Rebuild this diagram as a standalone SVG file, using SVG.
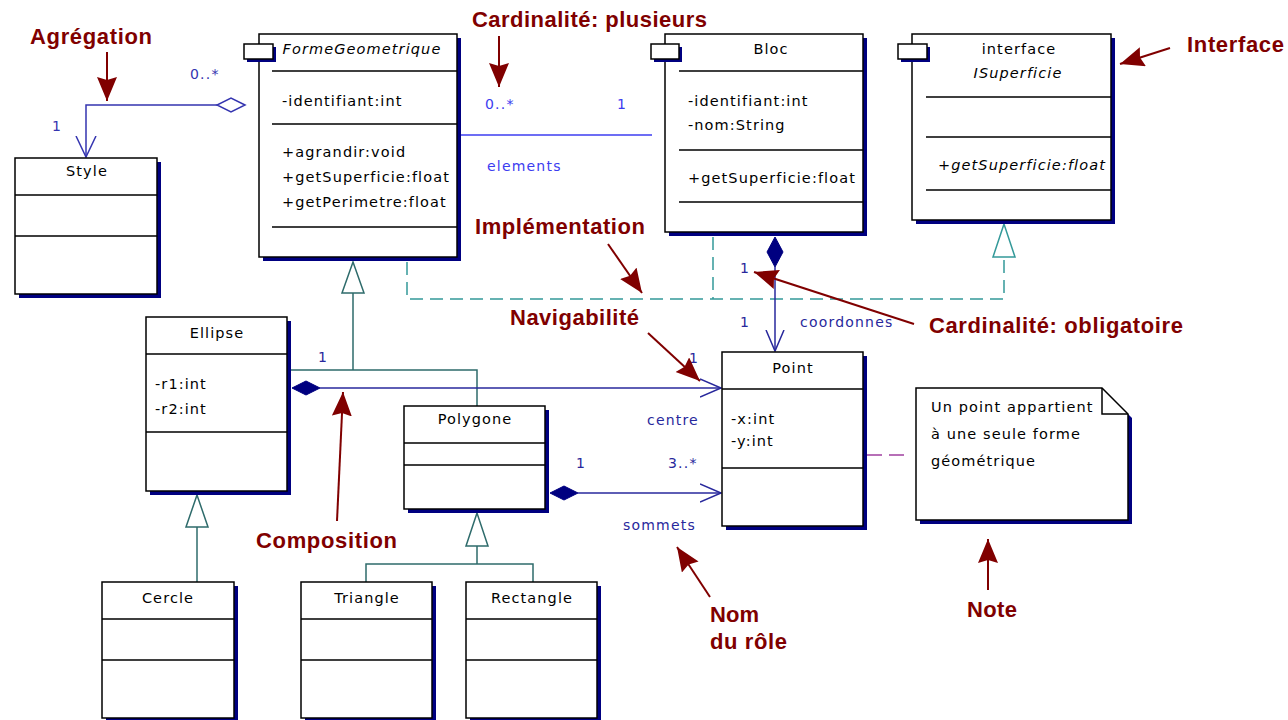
<svg xmlns="http://www.w3.org/2000/svg" width="1288" height="720" viewBox="0 0 1288 720">
  <style>
    .box{fill:#fff;stroke:#000;stroke-width:1.5}
    .shadow{fill:#000080}
    .div{stroke:#000;stroke-width:1.5}
    .t{font-family:"DejaVu Sans",Verdana,sans-serif;font-size:14.5px;letter-spacing:1.1px;fill:#000}
    .mid{text-anchor:middle}
    .it{font-style:italic}
    .ann{font-family:"Liberation Sans",Arial,sans-serif;font-weight:bold;font-size:22px;fill:#800000}
    .lbl{font-family:"DejaVu Sans",Verdana,sans-serif;font-size:14px;letter-spacing:1.2px;fill:#28289c}
    .lbl.bright{fill:#3c3cf0}
    .lbl.agg{fill:#3535b0}
    .gen{stroke:#2e6b6b;stroke-width:1.5;fill:none}
    .genhead{stroke:#2e6b6b;stroke-width:1.5;fill:#fff}
    .real{stroke:#339999;stroke-width:1.5;fill:none;stroke-dasharray:13 7}
    .realhead{stroke:#339999;stroke-width:1.5;fill:#fff}
    .assoc{stroke:#28289c;stroke-width:1.5;fill:none}
    .comp{fill:#000080;stroke:#000080;stroke-width:1}
    .redarrow{stroke:#800000;stroke-width:2;fill:none}
    .notelink{stroke:#a040a0;stroke-width:1.5;fill:none;stroke-dasharray:15 7}
  </style>
  <defs>
    <marker id="redhead" markerUnits="userSpaceOnUse" markerWidth="26" markerHeight="22" refX="24" refY="10" orient="auto">
      <path d="M0,0 L24,10 L0,20 L3,10 Z" fill="#800000"/>
    </marker>
    <marker id="openv" markerUnits="userSpaceOnUse" markerWidth="24" markerHeight="22" refX="21" refY="10" orient="auto">
      <path d="M0,1 L21,10 L0,19" fill="none" stroke="#28289c" stroke-width="1.5"/>
    </marker>
    <marker id="openv-agg" markerUnits="userSpaceOnUse" markerWidth="24" markerHeight="24" refX="21" refY="11" orient="auto">
      <path d="M0,1 L21,11 L0,21" fill="none" stroke="#3535b0" stroke-width="1.5"/>
    </marker>
  </defs>

  <rect width="1288" height="720" fill="#fff"/>

  <!-- connectors -->
  <g id="connectors">
    <!-- realization towards ISuperficie -->
    <path class="real" d="M407,262 V299 H1004 V257"/>
    <path class="real" d="M713,237 V299"/>
    <polygon class="realhead" points="1004,224 993,257 1015,257"/>

    <!-- generalization: FormeGeometrique <- Ellipse, Polygone -->
    <polygon class="genhead" points="353,262 342,293 364,293"/>
    <path class="gen" d="M353,293 V370 M291,370 H477 V406"/>

    <!-- generalization: Ellipse <- Cercle -->
    <polygon class="genhead" points="197,495 186,527 208,527"/>
    <path class="gen" d="M197,527 V582"/>

    <!-- generalization: Polygone <- Triangle, Rectangle -->
    <polygon class="genhead" points="477,513 466,546 488,546"/>
    <path class="gen" d="M477,546 V564 M366,582 V564 H533 V582"/>

    <!-- aggregation FormeGeometrique -> Style -->
    <path d="M217,105 H86 V157" fill="none" stroke="#3535b0" stroke-width="1.5" marker-end="url(#openv-agg)"/>
    <polygon points="245,105 231,98 217,105 231,112" fill="#fff" stroke="#3535b0" stroke-width="1.5"/>

    <!-- association FormeGeometrique - Bloc -->
    <line x1="461" y1="135" x2="652" y2="135" stroke="#3c3cf0" stroke-width="1.5"/>

    <!-- composition Bloc -> Point -->
    <polygon class="comp" points="775,237 783,252 775,267 767,252"/>
    <path class="assoc" d="M775,267 V351" marker-end="url(#openv)"/>

    <!-- composition Ellipse -> Point (centre) -->
    <polygon class="comp" points="292,388 306,381 320,388 306,395"/>
    <path class="assoc" d="M320,388 H721" marker-end="url(#openv)"/>

    <!-- composition Polygone -> Point (sommets) -->
    <polygon class="comp" points="550,493 564,486 578,493 564,500"/>
    <path class="assoc" d="M578,493 H721" marker-end="url(#openv)"/>

    <!-- note attachment -->
    <line class="notelink" x1="867" y1="455" x2="908" y2="455"/>

    <!-- connector labels -->
    <text class="lbl agg" x="190" y="79">0..*</text>
    <text class="lbl agg" x="52" y="131">1</text>
    <text class="lbl bright" x="485" y="109">0..*</text>
    <text class="lbl bright" x="617" y="109">1</text>
    <text class="lbl bright" x="487" y="171">elements</text>
    <text class="lbl" x="740" y="273">1</text>
    <text class="lbl" x="740" y="327">1</text>
    <text class="lbl" x="800" y="327">coordonnes</text>
    <text class="lbl" x="318" y="362">1</text>
    <text class="lbl" x="689" y="363">1</text>
    <text class="lbl" x="647" y="425">centre</text>
    <text class="lbl" x="576" y="468">1</text>
    <text class="lbl" x="668" y="468">3..*</text>
    <text class="lbl" x="623" y="530">sommets</text>
  </g>

  <!-- classes -->
  <g id="FormeGeometrique">
    <rect class="shadow" x="263" y="38" width="198" height="223"/>
    <rect class="box" x="259" y="34" width="198" height="223"/>
    <rect class="shadow" x="247" y="47" width="29" height="15"/>
    <rect class="box" x="244" y="44" width="29" height="15"/>
    <path class="div" d="M272,71 H457 M272,124 H457 M272,227 H457"/>
    <text class="t mid it" x="362" y="54">FormeGeometrique</text>
    <text class="t" x="282" y="106">-identifiant:int</text>
    <text class="t" x="282" y="157">+agrandir:void</text>
    <text class="t" x="282" y="182">+getSuperficie:float</text>
    <text class="t" x="282" y="207">+getPerimetre:float</text>
  </g>

  <g id="Bloc">
    <rect class="shadow" x="669" y="38" width="198" height="198"/>
    <rect class="box" x="665" y="34" width="198" height="198"/>
    <rect class="shadow" x="654" y="47" width="28" height="15"/>
    <rect class="box" x="651" y="44" width="28" height="15"/>
    <path class="div" d="M679,71 H863 M679,150 H863 M679,202 H863"/>
    <text class="t mid" x="771" y="54">Bloc</text>
    <text class="t" x="688" y="106">-identifiant:int</text>
    <text class="t" x="688" y="130">-nom:String</text>
    <text class="t" x="688" y="183">+getSuperficie:float</text>
  </g>

  <g id="ISuperficie">
    <rect class="shadow" x="916" y="38" width="199" height="186"/>
    <rect class="box" x="912" y="34" width="199" height="186"/>
    <rect class="shadow" x="901" y="47" width="29" height="15"/>
    <rect class="box" x="898" y="44" width="29" height="15"/>
    <path class="div" d="M926,97 H1111 M926,137 H1111 M926,190 H1111"/>
    <text class="t mid" x="1019" y="54">interface</text>
    <text class="t mid it" x="1018" y="78">ISuperficie</text>
    <text class="t it" x="938" y="170">+getSuperficie:float</text>
  </g>

  <g id="Style">
    <rect class="shadow" x="19" y="162" width="142" height="136"/>
    <rect class="box" x="15" y="158" width="142" height="136"/>
    <path class="div" d="M15,195 H157 M15,236 H157"/>
    <text class="t mid" x="87" y="176">Style</text>
  </g>

  <g id="Ellipse">
    <rect class="shadow" x="150" y="321" width="141" height="174"/>
    <rect class="box" x="146" y="317" width="141" height="174"/>
    <path class="div" d="M146,354 H287 M146,432 H287"/>
    <text class="t mid" x="217" y="338">Ellipse</text>
    <text class="t" x="155" y="389">-r1:int</text>
    <text class="t" x="155" y="414">-r2:int</text>
  </g>

  <g id="Polygone">
    <rect class="shadow" x="408" y="410" width="141" height="103"/>
    <rect class="box" x="404" y="406" width="141" height="103"/>
    <path class="div" d="M404,443 H545 M404,465 H545"/>
    <text class="t mid" x="475" y="424">Polygone</text>
  </g>

  <g id="Point">
    <rect class="shadow" x="726" y="356" width="141" height="174"/>
    <rect class="box" x="722" y="352" width="141" height="174"/>
    <path class="div" d="M722,389 H863 M722,468 H863"/>
    <text class="t mid" x="793" y="373">Point</text>
    <text class="t" x="731" y="424">-x:int</text>
    <text class="t" x="731" y="446">-y:int</text>
  </g>

  <g id="Cercle">
    <rect class="shadow" x="106" y="586" width="132" height="136"/>
    <rect class="box" x="102" y="582" width="132" height="136"/>
    <path class="div" d="M102,619 H234 M102,660 H234"/>
    <text class="t mid" x="168" y="603">Cercle</text>
  </g>

  <g id="Triangle">
    <rect class="shadow" x="305" y="586" width="131" height="136"/>
    <rect class="box" x="301" y="582" width="131" height="136"/>
    <path class="div" d="M301,619 H432 M301,660 H432"/>
    <text class="t mid" x="367" y="603">Triangle</text>
  </g>

  <g id="Rectangle">
    <rect class="shadow" x="470" y="586" width="131" height="136"/>
    <rect class="box" x="466" y="582" width="131" height="136"/>
    <path class="div" d="M466,619 H597 M466,660 H597"/>
    <text class="t mid" x="532" y="603">Rectangle</text>
  </g>

  <g id="Note">
    <path class="shadow" d="M920,392 H1106 L1132,418 V524 H920 Z"/>
    <path class="box" d="M916,388 H1102 L1128,414 V520 H916 Z"/>
    <path d="M1102,388 V414 H1128" fill="none" stroke="#000" stroke-width="1.5"/>
    <text class="t" x="931" y="412">Un point appartient</text>
    <text class="t" x="931" y="439">à une seule forme</text>
    <text class="t" x="931" y="466">géométrique</text>
  </g>

  <!-- explanatory callouts -->
  <g id="callouts">
    <text class="ann" x="30" y="44" textLength="122" lengthAdjust="spacing">Agrégation</text>
    <line class="redarrow" x1="107" y1="52" x2="107" y2="101" marker-end="url(#redhead)"/>

    <text class="ann" x="472" y="27" textLength="235" lengthAdjust="spacing">Cardinalité: plusieurs</text>
    <line class="redarrow" x1="499" y1="36" x2="499" y2="87" marker-end="url(#redhead)"/>

    <text class="ann" x="1187" y="52" textLength="97" lengthAdjust="spacing">Interface</text>
    <line class="redarrow" x1="1170" y1="48" x2="1120" y2="64" marker-end="url(#redhead)"/>

    <text class="ann" x="475" y="234" textLength="170" lengthAdjust="spacing">Implémentation</text>
    <line class="redarrow" x1="608" y1="244" x2="642" y2="293" marker-end="url(#redhead)"/>

    <text class="ann" x="510" y="325" textLength="129" lengthAdjust="spacing">Navigabilité</text>
    <line class="redarrow" x1="648" y1="333" x2="700" y2="381" marker-end="url(#redhead)"/>

    <text class="ann" x="929" y="333" textLength="254" lengthAdjust="spacing">Cardinalité: obligatoire</text>
    <line class="redarrow" x1="914" y1="324" x2="754" y2="272" marker-end="url(#redhead)"/>

    <text class="ann" x="256" y="548" textLength="141" lengthAdjust="spacing">Composition</text>
    <line class="redarrow" x1="337" y1="521" x2="343" y2="392" marker-end="url(#redhead)"/>

    <text class="ann" x="710" y="622" textLength="49" lengthAdjust="spacing">Nom</text>
    <text class="ann" x="710" y="649" textLength="77" lengthAdjust="spacing">du rôle</text>
    <line class="redarrow" x1="710" y1="597" x2="677" y2="547" marker-end="url(#redhead)"/>

    <text class="ann" x="967" y="617" textLength="50" lengthAdjust="spacing">Note</text>
    <line class="redarrow" x1="988" y1="590" x2="988" y2="539" marker-end="url(#redhead)"/>
  </g>
</svg>
